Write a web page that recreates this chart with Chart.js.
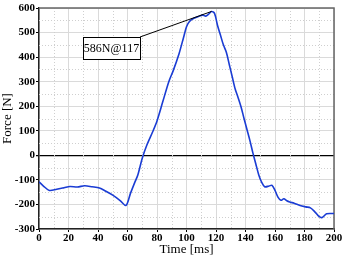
<!DOCTYPE html>
<html>
<head>
<meta charset="utf-8">
<script src="https://cdn.jsdelivr.net/npm/chart.js@4"></script>
<style>
  html, body { margin: 0; padding: 0; background: #fff; }
  #wrap { width: 345px; height: 257px; position: relative; }
</style>
</head>
<body>
<div id="wrap"><canvas id="chart_force"></canvas></div>
<script>
// time [ms] and force [N]
var times = [0, 3, 7, 12, 17, 21, 26, 31, 36, 41, 45, 50, 55, 59, 62, 65, 67, 70, 73, 77, 80, 84, 88, 91, 95, 98,
  100, 102, 105, 108, 111, 113, 115, 117, 119, 121, 123, 125, 127, 129, 131, 133, 135, 137, 139, 141, 143, 145,
  147, 149, 151, 153, 156, 158, 160, 162, 164, 166, 168, 170, 173, 177, 181, 184, 187, 190, 192, 195, 200];
var forces = [-108, -125, -143, -138, -132, -127, -129, -124, -128, -133, -145, -162, -184, -204, -155, -109, -80, -12, 40, 95, 140, 220, 300, 345, 415, 480,
  524, 545, 558, 565, 571, 567, 575, 586, 578, 530, 490, 450, 420, 370, 320, 270, 235, 197, 150, 105, 60, 10,
  -35, -80, -110, -128, -125, -122, -143, -170, -183, -177, -185, -190, -195, -204, -210, -214, -230, -250, -253, -238, -237];
var peakTime = 117;
var peakForce = 586;
var peakLabel = '586N@117';
var minorX = [10, 30, 50, 70, 90, 110, 130, 150, 170, 190];
var minorY = [-250, -150, -50, 50, 150, 250, 350, 450, 550];

var points = times.map(function (t, i) { return { x: t, y: forces[i] }; });

var serif = '"Liberation Serif", "Times New Roman", serif';

var chart_force = new Chart(document.getElementById('chart_force'), {
    type: 'line',
    data: {
        datasets: [{
            data: points,
            borderColor: '#1a3cd4',
            borderWidth: 1.6,
            pointRadius: 0,
            tension: 0.3,
            fill: false
        }]
    },
    options: {
        animation: false,
        responsive: true,
        maintainAspectRatio: false,
        layout: { padding: { top: 8, right: 11, left: 0, bottom: 0 } },
        plugins: {
            legend: { display: false },
            tooltip: { enabled: false }
        },
        scales: {
            x: {
                type: 'linear',
                min: 0,
                max: 200,
                afterFit: function (s) { s.height = 28; },
                title: {
                    display: true,
                    text: 'Time [ms]',
                    color: '#000',
                    font: { family: serif, size: 13 },
                    padding: 0
                },
                ticks: {
                    stepSize: 20,
                    padding: 0,
                    color: '#000',
                    maxRotation: 0,
                    font: { family: serif, size: 11, weight: 'bold' }
                },
                grid: {
                    color: '#dadada',
                    tickColor: '#000',
                    tickLength: 3
                },
                border: { color: '#222', width: 1.5 }
            },
            y: {
                type: 'linear',
                min: -300,
                max: 600,
                afterFit: function (s) { s.width = 39; },
                title: {
                    display: true,
                    text: 'Force [N]',
                    color: '#000',
                    font: { family: serif, size: 13 },
                    padding: 0
                },
                ticks: {
                    stepSize: 100,
                    padding: 1,
                    color: '#000',
                    font: { family: serif, size: 11, weight: 'bold' }
                },
                grid: {
                    color: function (c) { return c.tick && c.tick.value === 0 ? '#000' : '#dadada'; },
                    lineWidth: function (c) { return c.tick && c.tick.value === 0 ? 1.3 : 1; },
                    tickColor: '#000',
                    tickLength: 3
                },
                border: { color: '#222', width: 1.5 }
            }
        }
    },
    plugins: [{
        id: 'minorGrid',
        beforeDatasetsDraw: function (chart) {
            var ctx = chart.ctx, a = chart.chartArea;
            var xs = chart.scales.x, ys = chart.scales.y;
            ctx.save();
            ctx.strokeStyle = '#cfcfcf';
            ctx.lineWidth = 1;
            ctx.setLineDash([1, 2]);
            minorX.forEach(function (v) {
                var px = Math.round(xs.getPixelForValue(v)) + 0.5;
                ctx.beginPath(); ctx.moveTo(px, a.top); ctx.lineTo(px, a.bottom); ctx.stroke();
            });
            minorY.forEach(function (v) {
                var py = Math.round(ys.getPixelForValue(v)) + 0.5;
                ctx.beginPath(); ctx.moveTo(a.left, py); ctx.lineTo(a.right, py); ctx.stroke();
            });
            ctx.setLineDash([]);
            ctx.strokeStyle = '#666';
            ctx.lineWidth = 1.5;
            ctx.beginPath();
            ctx.moveTo(a.left, a.top); ctx.lineTo(a.right, a.top); ctx.lineTo(a.right, a.bottom);
            ctx.stroke();
            ctx.restore();
        }
    }, {
        id: 'peakLabel',
        afterDatasetsDraw: function (chart) {
            var ctx = chart.ctx;
            var px = chart.scales.x.getPixelForValue(peakTime);
            var py = chart.scales.y.getPixelForValue(peakForce);
            var bx = 83, by = 37, bw = 57, bh = 22;
            ctx.save();
            ctx.strokeStyle = '#000';
            ctx.lineWidth = 1;
            ctx.beginPath(); ctx.moveTo(bx + bw, by); ctx.lineTo(px, py); ctx.stroke();
            ctx.fillStyle = '#fff';
            ctx.fillRect(bx, by, bw, bh);
            ctx.strokeRect(bx + 0.5, by + 0.5, bw, bh);
            ctx.fillStyle = '#000';
            ctx.font = '12px ' + serif;
            ctx.textAlign = 'center';
            ctx.textBaseline = 'middle';
            ctx.fillText(peakLabel, bx + bw / 2, by + bh / 2 + 1);
            ctx.restore();
        }
    }]
});
</script>
</body>
</html>
